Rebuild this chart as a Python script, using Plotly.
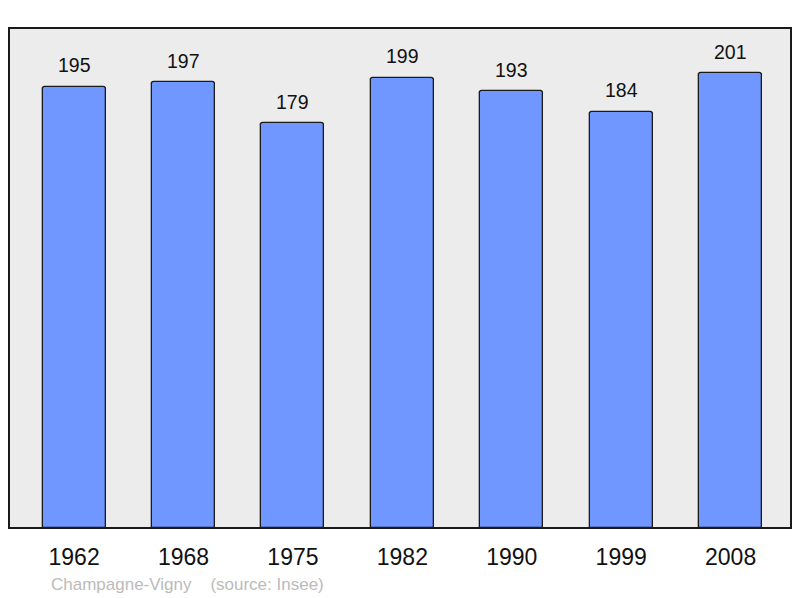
import plotly.graph_objects as go

years = ["1962", "1968", "1975", "1982", "1990", "1999", "2008"]
population = [195, 197, 179, 199, 193, 184, 201]
source_text = "Champagne-Vigny&nbsp;&nbsp;&nbsp;&nbsp;(source: Insee)"

FONT = "Liberation Sans, Arial, sans-serif"

# The page body adds an 8px offset; the figure is sized to fit inside it.
W, H = 792, 590
L, T = 1, 20
PW, PH = 782, 500
R, B = W - L - PW, H - T - PH

fig = go.Figure()
fig.add_trace(go.Bar(
    x=years, y=population,
    width=0.575,
    marker=dict(color="#7096ff", line=dict(color="#1a1a1a", width=1.3), cornerradius=3),
    hoverinfo="skip",
))

for i, v in enumerate(population):
    fig.add_annotation(x=i, y=v, text=str(v), showarrow=False, yshift=21.5,
                       xref="x", yref="y", yanchor="middle", xanchor="center",
                       font=dict(family=FONT, size=19.5, color="#111111"))

fig.add_annotation(x=(49 - 9) / PW, y=-(584 - 528) / PH, xref="paper", yref="paper",
                   text=source_text, showarrow=False, xanchor="left", yanchor="middle",
                   font=dict(family=FONT, size=17, color="#bbbbbb"))

fig.add_shape(type="rect", xref="paper", yref="paper", x0=0, x1=1, y0=0, y1=1,
              line=dict(color="#1a1a1a", width=2), fillcolor="rgba(0,0,0,0)", layer="above")

fig.update_layout(
    width=W, height=H,
    margin=dict(l=L, r=R, t=T, b=B, autoexpand=False),
    paper_bgcolor="white",
    plot_bgcolor="#ececec",
    showlegend=False,
    bargap=0,
    xaxis=dict(type="category", range=[-0.595, 6.552], showgrid=False, zeroline=False, ticks="",
               tickfont=dict(family=FONT, size=23, color="#111"),
               ticklabelstandoff=13, fixedrange=True),
    yaxis=dict(range=[0, 221], showgrid=False, zeroline=False, showticklabels=False, ticks="",
               fixedrange=True),
)

fig.write_html("out.html")
